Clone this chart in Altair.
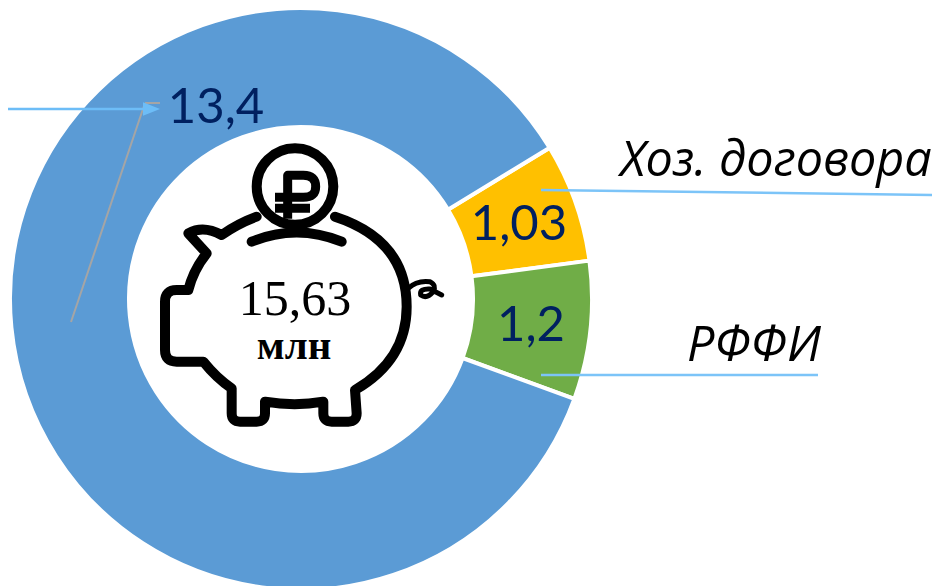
import re
import altair as alt
import pandas as pd

categories = ["Хоз. договора", "РФФИ", "Прочее"]
values = [1.03, 1.2, 13.4]
colors = ["#FFC000", "#70AD47", "#5B9BD5"]
value_labels = ["1,03", "1,2", "13,4"]
total_label = "15,63"
unit_label = "млн"
START = 1.0245
PAGE = 8


def px(v):
    return alt.value(v - PAGE)


df = pd.DataFrame({"cat": categories, "value": values, "order": [0, 1, 2]})
blank = pd.DataFrame({"a": [0]})

donut = alt.Chart(df).mark_arc(
    innerRadius=172, outerRadius=291, stroke="white", strokeWidth=4
).encode(
    theta=alt.Theta("value:Q", stack=True, scale=alt.Scale(domain=[0, sum(values)], range=[START, START + 6.28319])),
    order=alt.Order("order:Q"),
    color=alt.Color("cat:N", scale=alt.Scale(domain=categories, range=colors), legend=None),
    x=px(301),
    y=px(299),
)


def seg(x1, y1, x2, y2, color, w):
    return alt.Chart(blank).mark_rule(color=color, strokeWidth=w).encode(
        x=px(x1), y=px(y1), x2=px(x2), y2=px(y2)
    )


def txt(s, x, y, font, size, color="#000000", **kw):
    return alt.Chart(pd.DataFrame({"t": [s]})).mark_text(
        font=font, fontSize=size, color=color, align="center", baseline="middle", **kw
    ).encode(text="t:N", x=px(x), y=px(y))


CX, CY = 300, 290


def conv(path):
    # icon outlines traced in crop coordinates, normalised for a custom symbol
    nums = iter(re.findall(r"[A-Z]|-?\d+\.?\d*", path))
    out, is_x = [], True
    for tok in nums:
        if tok.isalpha():
            out.append(tok)
            is_x = True
        else:
            v = float(tok)
            v = (v / 3 + 140 - CX) / 100 if is_x else (v / 3 + 140 - CY) / 100
            out.append(f"{v:.4f}")
            is_x = not is_x
    return " ".join(out)


def icon(path, w, cap="round"):
    return alt.Chart(blank).mark_point(
        shape=conv(path), size=40000, strokeCap=cap, strokeJoin="round",
        stroke="#000000", strokeWidth=w, filled=False, opacity=1
    ).encode(x=px(CX), y=px(CY))


pig_body = ("M200 340 L145 280 Q190 255 245 285 Q295 250 350 230 "
            "M585 230 Q800 300 800 500 Q800 660 645 750 L650 820 Q650 845 625 845 L575 845 "
            "Q550 845 550 820 L550 785 Q465 800 375 785 L375 820 Q375 845 350 845 L300 845 "
            "Q275 845 275 820 L275 745 Q230 715 190 665 L110 665 Q75 665 75 630 L75 485 "
            "Q75 450 110 450 L145 450 Q160 390 200 340")
pig_slot = "M335 305 Q470 250 605 305"
pig_tail = "M805 445 Q830 420 870 425 Q890 435 880 455 Q860 478 842 465 Q838 445 870 447 L905 465"
ruble = "M443 236 L443 106 L490 106 Q527 106 527 140 Q527 172 490 172 L405 172 M405 205 L510 205"

coin = alt.Chart(blank).mark_point(
    shape="circle", size=(2 * 38.3) ** 2, filled=False, stroke="#000000", strokeWidth=10, opacity=1
).encode(x=px(295), y=px(186.5))

arrow = alt.Chart(blank).mark_point(
    shape="M -1 -0.8 L 1 0 L -1 0.8 Z", size=289, filled=True, fill="#6DBDF7", opacity=1, strokeWidth=0
).encode(x=px(151.5), y=px(109))

chart = alt.layer(
    donut,
    seg(71, 322, 145, 103, "#A5A5A5", 2),
    seg(145, 103, 160, 103, "#A5A5A5", 2),
    seg(8, 109, 150, 109, "#6DBDF7", 2.5),
    arrow,
    seg(541, 190, 934, 195, "#7CC4F8", 2.5),
    seg(541, 375, 818, 375, "#7CC4F8", 2.5),
    icon(pig_body, 10),
    icon(pig_slot, 10),
    icon(pig_tail, 5),
    icon(ruble, 9, "butt"),
    coin,
    txt(value_labels[2], 216, 108, "Lato", 49, "#002060"),
    txt(value_labels[0], 519, 225, "Lato", 49, "#002060"),
    txt(value_labels[1], 531, 326, "Lato", 49, "#002060"),
    txt(categories[0], 776, 161, "Open Sans", 48.5, fontStyle="italic"),
    txt(categories[1], 754, 346, "Open Sans", 48.5, fontStyle="italic"),
    txt(total_label, 295, 300, "Liberation Serif", 50),
    txt(unit_label, 294, 347, "Liberation Serif", 41, fontWeight="bold"),
).properties(
    width=924, height=578, padding=0, autosize=alt.AutoSizeParams(type="none")
).configure_view(stroke=None)

chart.save("out.html", embed_options={"renderer": "svg", "actions": False})
